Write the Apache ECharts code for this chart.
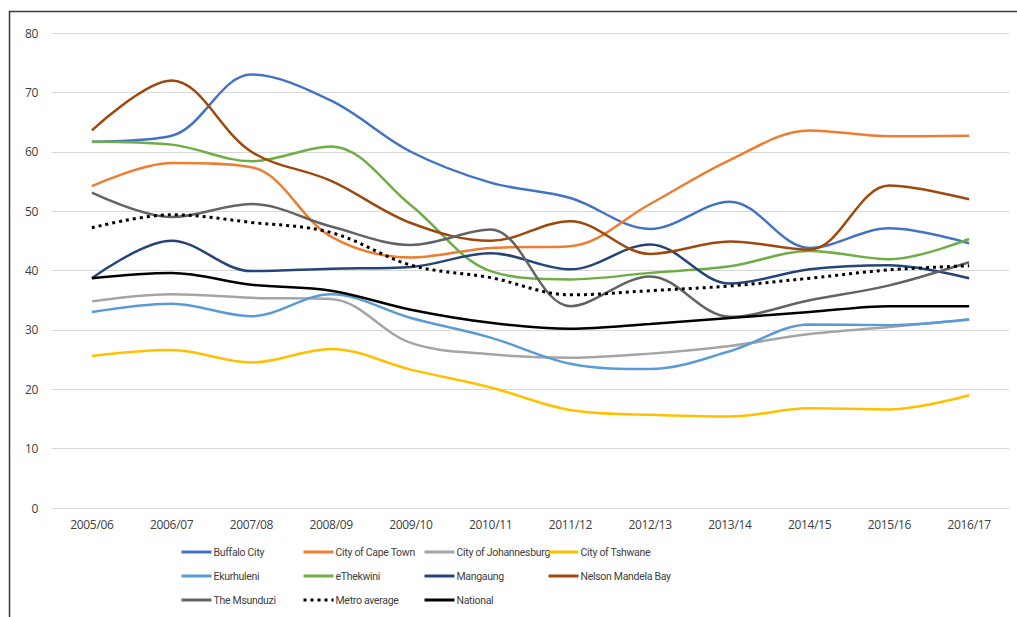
<!DOCTYPE html>
<html>
<head>
<meta charset="utf-8">
<script src="https://cdn.jsdelivr.net/npm/echarts@6/dist/echarts.min.js"></script>
<style>
  html, body { margin: 0; padding: 0; background: #fff; }
  #chart { width: 1017px; height: 617px; }
  /* Excel legend font is narrow, squeeze the letters a little */
  #chart svg text { letter-spacing: -0.3px; }
</style>
</head>
<body>
<div id="chart"></div>
<script>
// categories (financial years)
const years = ['2005/06', '2006/07', '2007/08', '2008/09', '2009/10', '2010/11',
  '2011/12', '2012/13', '2013/14', '2014/15', '2015/16', '2016/17']

// series values
const buffaloCity   = [61.7, 62.7, 73.0, 68.6, 60.0, 54.8, 52.2, 47.0, 51.6, 43.8, 47.1, 44.6]
const capeTown      = [54.2, 58.1, 57.4, 45.7, 42.2, 43.8, 44.1, 51.2, 58.6, 63.6, 62.6, 62.7]
const johannesburg  = [34.8, 36.0, 35.4, 35.2, 27.8, 25.9, 25.3, 26.0, 27.3, 29.3, 30.5, 31.7]
const tshwane       = [25.6, 26.6, 24.5, 26.8, 23.3, 20.3, 16.5, 15.7, 15.4, 16.8, 16.6, 19.0]
const ekurhuleni    = [33.0, 34.4, 32.3, 36.0, 32.0, 28.7, 24.3, 23.4, 26.4, 30.9, 30.8, 31.8]
const eThekwini     = [61.7, 61.2, 58.4, 60.9, 51.0, 39.9, 38.5, 39.6, 40.7, 43.3, 41.9, 45.3]
const mangaung      = [38.7, 45.0, 39.9, 40.3, 40.6, 42.9, 40.2, 44.4, 37.8, 40.2, 40.9, 38.7]
const nelsonMandela = [63.6, 72.0, 60.0, 55.1, 48.0, 45.0, 48.3, 42.8, 44.9, 43.5, 54.3, 52.0]
const msunduzi      = [53.1, 49.0, 51.2, 47.4, 44.3, 46.9, 34.0, 39.0, 32.2, 35.0, 37.5, 41.4]
const metroAverage  = [47.2, 49.4, 48.1, 46.4, 40.9, 38.8, 35.9, 36.6, 37.4, 38.7, 40.1, 40.8]
const national      = [38.7, 39.6, 37.6, 36.6, 33.4, 31.2, 30.2, 31.0, 32.0, 33.0, 34.0, 34.0]

// y axis ticks
const yMin = 0
const yMax = 80
const yStep = 10

const seriesDefs = [
  { name: 'Buffalo City', data: buffaloCity, color: '#4472C4' },
  { name: 'City of Cape Town', data: capeTown, color: '#ED7D31' },
  { name: 'City of Johannesburg', data: johannesburg, color: '#A5A5A5' },
  { name: 'City of Tshwane', data: tshwane, color: '#FFC000' },
  { name: 'Ekurhuleni', data: ekurhuleni, color: '#5B9BD5' },
  { name: 'eThekwini', data: eThekwini, color: '#70AD47' },
  { name: 'Mangaung', data: mangaung, color: '#264478' },
  { name: 'Nelson Mandela Bay', data: nelsonMandela, color: '#9E480E' },
  { name: 'The Msunduzi', data: msunduzi, color: '#636363' },
  { name: 'Metro average', data: metroAverage, color: '#000000', dotted: true },
  { name: 'National', data: national, color: '#000000' },
]

// legend columns, like the Excel legend (3 rows x 4 columns)
const legendCols = [
  ['Buffalo City', 'Ekurhuleni', 'The Msunduzi'],
  ['City of Cape Town', 'eThekwini', 'Metro average'],
  ['City of Johannesburg', 'Mangaung', 'National'],
  ['City of Tshwane', 'Nelson Mandela Bay'],
]
const legendLeft = [180, 302, 423, 547]

const chart = echarts.init(document.getElementById('chart'), null, { renderer: 'svg' })

const option = {
  animation: false,
  backgroundColor: '#fff',
  graphic: [{
    type: 'rect',
    shape: { x: 9.5, y: 11.5, width: 1030, height: 640 },
    style: { fill: 'none', stroke: '#3a3a3a', lineWidth: 1.5 },
    silent: true,
    z: -1,
  }],
  grid: { left: 52, right: 8, top: 33, bottom: 109, containLabel: false },
  legend: legendCols.map((names, i) => ({
    orient: 'vertical',
    left: legendLeft[i],
    top: 545,
    data: names,
    itemWidth: 30,
    itemHeight: 14,
    itemGap: 10,
    padding: 0,
    itemStyle: { opacity: 0 },
    lineStyle: { width: 3 },
    textStyle: { fontFamily: 'Roboto', fontSize: 10.5, color: '#404040', padding: [0, 0, 0, -3], lineHeight: 14 },
  })),
  xAxis: {
    type: 'category',
    data: years,
    boundaryGap: true,
    axisLine: { lineStyle: { color: '#d9d9d9', width: 1 } },
    axisTick: { show: false },
    axisLabel: { fontFamily: 'Open Sans', fontSize: 12, color: '#404040', margin: 10 },
  },
  yAxis: {
    type: 'value',
    min: yMin,
    max: yMax,
    interval: yStep,
    axisLine: { show: false },
    axisTick: { show: false },
    axisLabel: { fontFamily: 'Open Sans', fontSize: 12, color: '#404040', margin: 14 },
    splitLine: { lineStyle: { color: '#d9d9d9', width: 1 } },
  },
  series: seriesDefs.map(s => ({
    name: s.name,
    type: 'line',
    data: s.data,
    smooth: 0.35,
    symbol: 'none',
    showSymbol: false,
    color: s.color,
    lineStyle: {
      color: s.color,
      width: s.dotted ? 3 : 2.5,
      type: s.dotted ? [3, 4] : 'solid',
      cap: 'butt',
    },
  })),
}

chart.setOption(option)
</script>
</body>
</html>
